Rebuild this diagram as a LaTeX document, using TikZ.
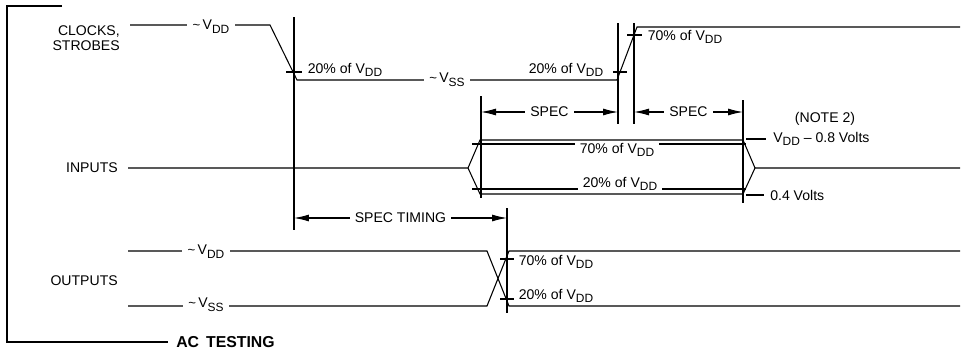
\documentclass[tikz,border=0pt]{standalone}
\usepackage{fontspec}
\setmainfont{Liberation Sans}
\usetikzlibrary{arrows.meta,positioning}
\newcommand\lowsub[1]{\raisebox{-.5ex}{\fontsize{6.8}{7}\selectfont #1}}
\newcommand\Vdd{V\lowsub{DD}}
\newcommand\Vss{V\lowsub{SS}}
\newcommand\tld{{\fontsize{7.5}{8}\selectfont\textasciitilde}\,}
\tikzset{
  lbl/.style={font=\fontsize{8}{8.5}\selectfont, inner sep=1pt},
  cut/.style={lbl, fill=white, inner xsep=3pt, inner ysep=.5pt},
  spec/.style={{Latex[length=3mm,width=1.4mm]}-{Latex[length=3mm,width=1.4mm]}, line width=.6pt},
  guide/.style={line width=.8pt}
}

\begin{document}
\begin{tikzpicture}[x=0.02cm, y=-0.02cm, line width=.6pt]
\useasboundingbox (0,0) rectangle (964,355);

\node[anchor=west, inner sep=1pt, font=\bfseries\fontsize{9}{10}\selectfont] (ac) at (174,342) {AC\, TESTING};
\draw (62,6) -- (7,6) -- (7,342) -- (168,342);

\node[lbl, align=right, anchor=east] (clk) at (122,38) {CLOCKS,\\STROBES};
\node[lbl, anchor=east] (inp) at (120,168) {INPUTS};
\node[lbl, anchor=east] (outp) at (120,281) {OUTPUTS};

\coordinate (t0) at (294,17);  \coordinate (t0b) at (294,230);
\coordinate (s0) at (481,96);  \coordinate (s0b) at (481,198);
\coordinate (s1) at (618,23);  \coordinate (s1b) at (618,124);
\coordinate (s2) at (634,23);  \coordinate (s2b) at (634,124);
\coordinate (s3) at (743,100); \coordinate (s3b) at (743,203);
\coordinate (t1) at (507,208); \coordinate (t1b) at (507,313);
\foreach \a in {t0,s0,s1,s2,s3,t1}
  \draw[guide] (\a) -- (\a b);

\draw (130,25) -- (270,25) -- (297,80) -- (617,80) -- (637,27) -- (960,27);
\draw (286,72) -- (302,72) (613,72) -- (627,72) (627,35) -- (642,35);
\node[cut] (ckhi) at (211,27) {\tld\Vdd};
\node[cut] (cklo) at (447,80) {\tld\Vss};
\node[lbl] (ck20a) at (345,70) {20\% of \Vdd};
\node[lbl] (ck20b) at (566,70) {20\% of \Vdd};
\node[lbl] (ck70) at (685,37) {70\% of \Vdd};

\draw[spec] (s0 |- 0,112) -- node[cut] (spa) {SPEC} (s1 |- 0,112);
\draw[spec] (s2 |- 0,112) -- node[cut] (spb) {SPEC} (s3 |- 0,112);
\node[lbl] (note) at (825,119) {(NOTE 2)};

\draw (128,168) -- (468,168) -- (480,140) -- (743,140) -- (755,168) -- (960,168);
\draw (468,168) -- (480,194) -- (743,194) -- (755,168);
\draw (472,144) -- (746,144) (472,189) -- (746,189);
\node[cut] (in70) at (617,150) {70\% of \Vdd};
\node[cut] (in20) at (620,184) {20\% of \Vdd};
\node[lbl, anchor=base west] (vhi) at (771,142) {\Vdd{} -- 0.8 Volts};
\node[lbl, anchor=base west] (vlo) at (768,200) {0.4 Volts};
\draw (746,139) -- (766,139);
\draw (746,195) -- (764,195);

\draw[spec] (t0 |- 0,218) -- node[cut] (spt) {SPEC TIMING} (t1 |- 0,218);

\draw (128,251) -- (487,251) -- (509,306) -- (960,306);
\draw (128,306) -- (487,306) -- (509,251) -- (960,251);
\draw (500,259) -- (514,259) (500,299) -- (514,299);
\node[cut] (ohi) at (206,252) {\tld\Vdd};
\node[cut] (olo) at (206,305) {\tld\Vss};
\node[lbl] (o70) at (556,262) {70\% of \Vdd};
\node[lbl] (o20) at (556,296) {20\% of \Vdd};
\end{tikzpicture}
\end{document}
